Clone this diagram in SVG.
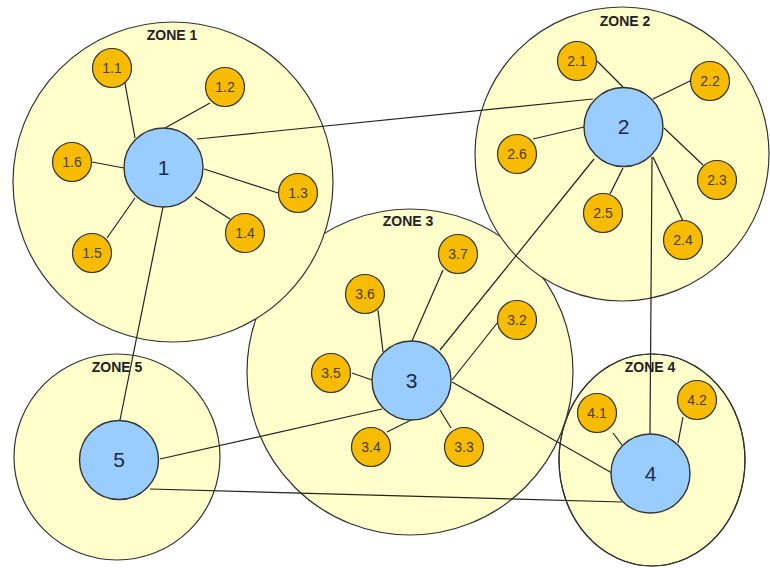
<svg xmlns="http://www.w3.org/2000/svg" width="770" height="568" viewBox="0 0 770 568">
<style>
.zone{fill:#FFFFCC;stroke:#333;stroke-width:1.2}
.zs{fill:none;stroke:#333;stroke-width:1.2}
.zl{font-family:"Liberation Sans",Arial,sans-serif;font-weight:bold;font-size:14px;fill:#222;text-anchor:middle}
.hub{fill:#99CCFF;stroke:#333;stroke-width:1.4}
.hl{font-family:"Liberation Sans",Arial,sans-serif;font-size:21px;fill:#1a2a48;text-anchor:middle}
.sub{fill:#F7BB00;stroke:#333;stroke-width:1.2}
.sl{font-family:"Liberation Sans",Arial,sans-serif;font-size:14px;fill:#4a4024;text-anchor:middle}
.c line{stroke:#222;stroke-width:1.2}
</style>
<rect width="770" height="568" fill="#fff"/>
<g id="zones">
<ellipse id="zone4" class="zone" cx="652" cy="460" rx="93" ry="106"/>
<circle id="zone3" class="zone" cx="410" cy="372" r="163"/>
<ellipse class="zs" cx="652" cy="460" rx="93" ry="106"/>
<circle id="zone5" class="zone" cx="117" cy="457" r="103"/>
<circle id="zone1" class="zone" cx="173" cy="182" r="160"/>
<circle id="zone2" class="zone" cx="622" cy="154" r="147"/>
<text class="zl" x="172" y="40">ZONE 1</text>
<text class="zl" x="625" y="26">ZONE 2</text>
<text class="zl" x="408" y="226">ZONE 3</text>
<text class="zl" x="650" y="372">ZONE 4</text>
<text class="zl" x="117" y="372">ZONE 5</text>
</g>
<g id="connectors" class="c">
<line x1="124" y1="78" x2="135" y2="138"/>
<line x1="210" y1="103" x2="165" y2="128"/>
<line x1="204" y1="169" x2="278" y2="193"/>
<line x1="195" y1="197" x2="230" y2="219"/>
<line x1="135" y1="198" x2="107" y2="238"/>
<line x1="92" y1="162" x2="124" y2="168"/>
<line x1="197" y1="139" x2="593" y2="99"/>
<line x1="163" y1="207" x2="120" y2="420"/>
<line x1="597" y1="61" x2="623" y2="87"/>
<line x1="692" y1="80" x2="653" y2="99"/>
<line x1="703" y1="165" x2="664" y2="128"/>
<line x1="683" y1="221" x2="653" y2="157"/>
<line x1="610" y1="194" x2="623" y2="168"/>
<line x1="533" y1="139" x2="584" y2="127"/>
<line x1="594" y1="159" x2="440" y2="350"/>
<line x1="652" y1="157" x2="650" y2="434"/>
<line x1="498" y1="322" x2="452" y2="380"/>
<line x1="451" y1="428" x2="440" y2="410"/>
<line x1="387" y1="432" x2="411" y2="420"/>
<line x1="352" y1="373" x2="372" y2="380"/>
<line x1="378" y1="310" x2="383" y2="352"/>
<line x1="443" y1="270" x2="412" y2="341"/>
<line x1="382" y1="409" x2="160" y2="459"/>
<line x1="452" y1="382" x2="612" y2="473"/>
<line x1="150" y1="489" x2="622" y2="502"/>
<line x1="613" y1="433" x2="622" y2="445"/>
<line x1="683" y1="417" x2="678" y2="443"/>
</g>
<g id="n1"><circle class="hub" cx="163.5" cy="167.5" r="39.5"/><text class="hl" x="163.5" y="175">1</text></g>
<g id="n1_1"><circle class="sub" cx="112" cy="68" r="19.5"/><text class="sl" x="112" y="73">1.1</text></g>
<g id="n1_2"><circle class="sub" cx="225" cy="87" r="19.5"/><text class="sl" x="225" y="92">1.2</text></g>
<g id="n1_3"><circle class="sub" cx="298" cy="193" r="19.5"/><text class="sl" x="298" y="198">1.3</text></g>
<g id="n1_4"><circle class="sub" cx="245" cy="233" r="19.5"/><text class="sl" x="245" y="238">1.4</text></g>
<g id="n1_5"><circle class="sub" cx="92" cy="253" r="19.5"/><text class="sl" x="92" y="258">1.5</text></g>
<g id="n1_6"><circle class="sub" cx="72" cy="162" r="19.5"/><text class="sl" x="72" y="167">1.6</text></g>
<g id="n2"><circle class="hub" cx="623.5" cy="127" r="39.5"/><text class="hl" x="623.5" y="134">2</text></g>
<g id="n2_1"><circle class="sub" cx="577" cy="61" r="19.5"/><text class="sl" x="577" y="66">2.1</text></g>
<g id="n2_2"><circle class="sub" cx="710" cy="81" r="19.5"/><text class="sl" x="710" y="86">2.2</text></g>
<g id="n2_3"><circle class="sub" cx="717" cy="180" r="19.5"/><text class="sl" x="717" y="185">2.3</text></g>
<g id="n2_4"><circle class="sub" cx="683" cy="240" r="19.5"/><text class="sl" x="683" y="245">2.4</text></g>
<g id="n2_5"><circle class="sub" cx="603" cy="213" r="19.5"/><text class="sl" x="603" y="218">2.5</text></g>
<g id="n2_6"><circle class="sub" cx="517" cy="154" r="19.5"/><text class="sl" x="517" y="159">2.6</text></g>
<g id="n3"><circle class="hub" cx="411.5" cy="380.5" r="39.5"/><text class="hl" x="411.5" y="388">3</text></g>
<g id="n3_2"><circle class="sub" cx="517" cy="320" r="19.5"/><text class="sl" x="517" y="325">3.2</text></g>
<g id="n3_3"><circle class="sub" cx="464" cy="447" r="19.5"/><text class="sl" x="464" y="452">3.3</text></g>
<g id="n3_4"><circle class="sub" cx="371" cy="447" r="19.5"/><text class="sl" x="371" y="452">3.4</text></g>
<g id="n3_5"><circle class="sub" cx="331" cy="373" r="19.5"/><text class="sl" x="331" y="378">3.5</text></g>
<g id="n3_6"><circle class="sub" cx="365" cy="294" r="19.5"/><text class="sl" x="365" y="299">3.6</text></g>
<g id="n3_7"><circle class="sub" cx="458" cy="254" r="19.5"/><text class="sl" x="458" y="259">3.7</text></g>
<g id="n4"><circle class="hub" cx="650.5" cy="473.5" r="39.5"/><text class="hl" x="650.5" y="481">4</text></g>
<g id="n4_1"><circle class="sub" cx="597" cy="413" r="19.5"/><text class="sl" x="597" y="418">4.1</text></g>
<g id="n4_2"><circle class="sub" cx="697" cy="400" r="19.5"/><text class="sl" x="697" y="405">4.2</text></g>
<g id="n5"><circle class="hub" cx="119" cy="460" r="39.5"/><text class="hl" x="119" y="467">5</text></g>
</svg>
